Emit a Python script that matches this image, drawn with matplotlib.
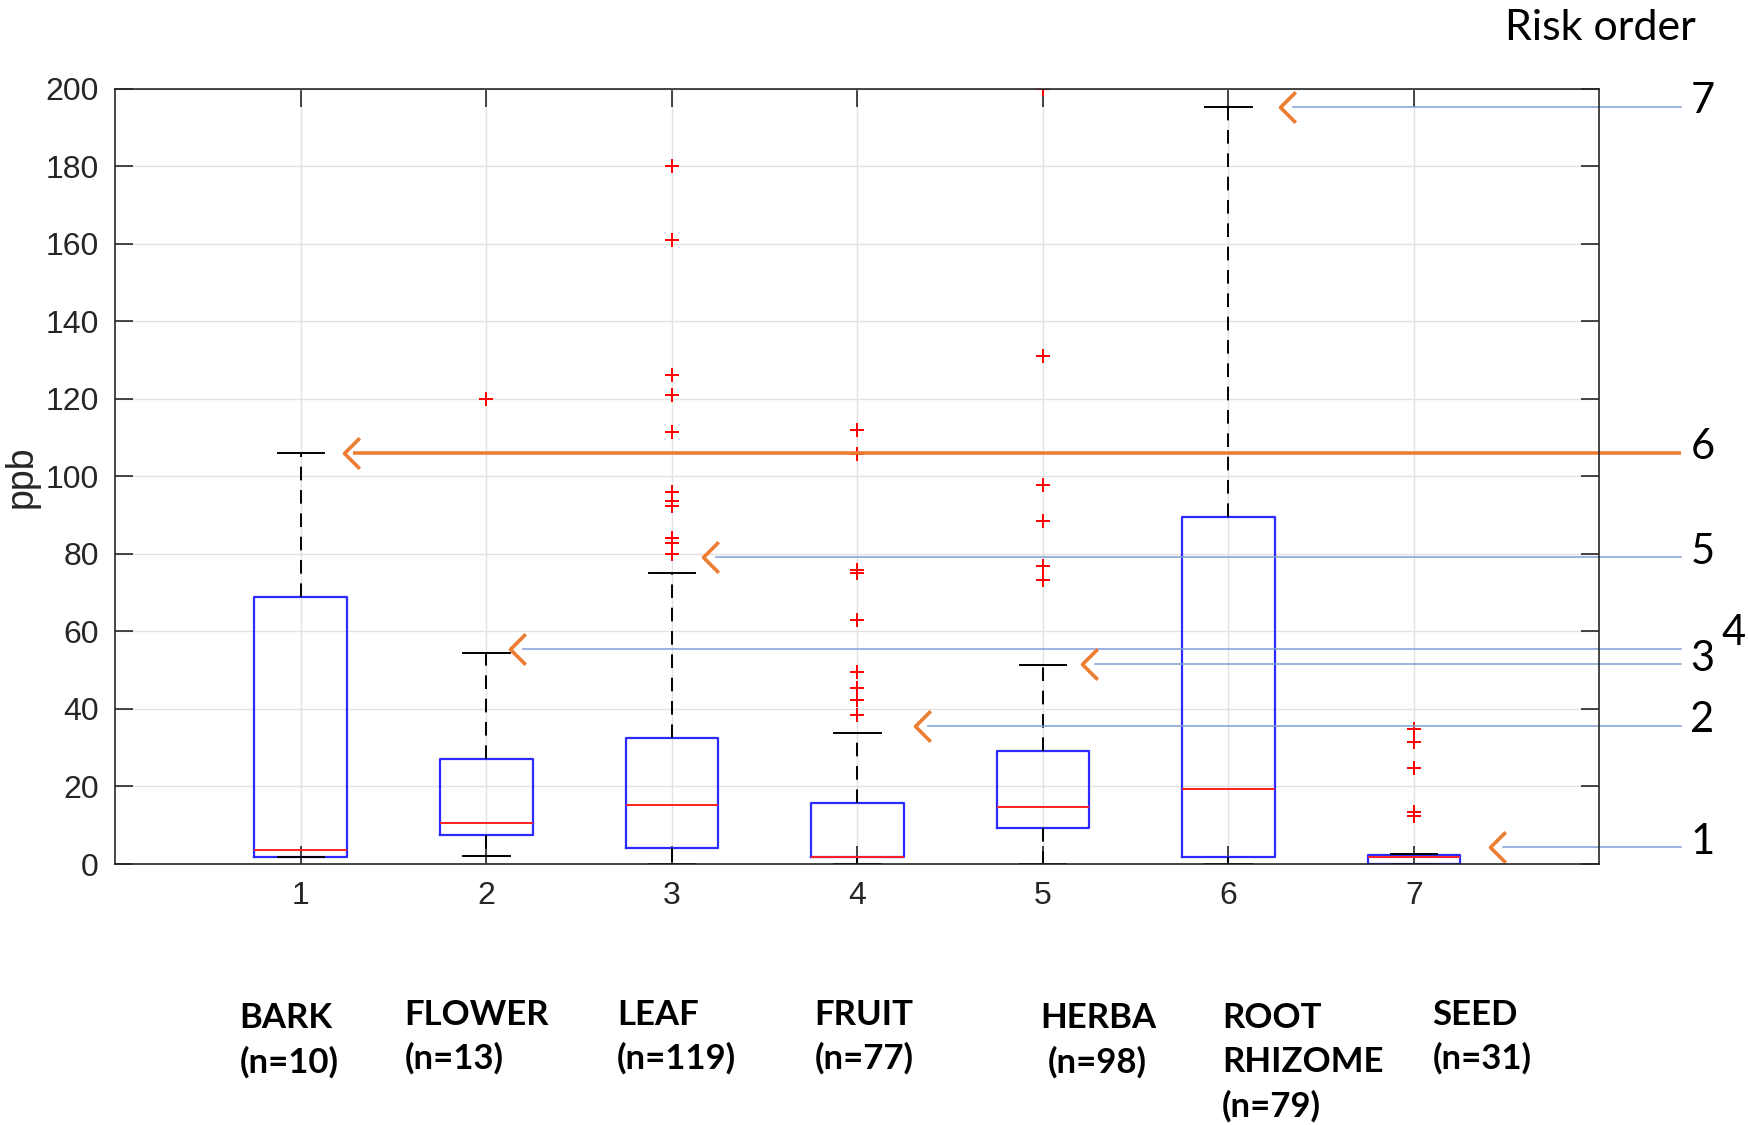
import matplotlib
matplotlib.use('Agg')
import matplotlib.pyplot as plt
from matplotlib.path import Path

# ── data ────────────────────────────────────────────────────────────────────
parts = ['BARK', 'FLOWER', 'LEAF', 'FRUIT', 'HERBA', 'ROOT\nRHIZOME', 'SEED']
counts = [10, 13, 119, 77, 98, 79, 31]
q1 = [1.7, 7.5, 4.0, 1.9, 9.2, 1.7, 0.0]
medians = [3.5, 10.6, 15.3, 1.9, 14.6, 19.3, 1.7]
q3 = [68.8, 27.0, 32.5, 15.7, 29.2, 89.5, 2.3]
whis_lo = [1.7, 2.0, 0.0, 0.0, 0.0, 0.0, 0.0]
whis_hi = [106.0, 54.4, 75.2, 33.8, 51.3, 195.3, 2.6]
outliers = [
    [],
    [120.0],
    [180.0, 161.1, 126.3, 121.1, 111.4, 96.0, 93.6, 92.3, 84.0, 82.7, 80.1],
    [112.0, 105.9, 75.9, 75.2, 63.0, 49.6, 45.4, 42.3, 38.5],
    [200.0, 131.0, 97.9, 88.6, 76.9, 73.2],
    [],
    [34.8, 31.6, 24.7, 13.5, 12.4],
]

# risk order markers: rank, level (ppb), box the arrow points at
risk_rank = [7, 6, 5, 4, 3, 2, 1]
risk_level = [195.3, 106.0, 79.1, 55.5, 51.5, 35.7, 4.3]
risk_tip = [6.28, 1.23, 3.17, 2.13, 5.21, 4.31, 7.41]

AX_COLOR = '#262626'
ORANGE = '#ED7D31'
LINE_BLUE = '#7E9ED6'

plt.rcParams['font.family'] = ['Liberation Sans', 'DejaVu Sans']

fig = plt.figure(figsize=(17.48, 11.25), dpi=100, facecolor='white')
ax = fig.add_axes([0.066, 0.232, 0.849, 0.689])

stats = []
for i in range(len(parts)):
    stats.append(dict(med=medians[i], q1=q1[i], q3=q3[i],
                      whislo=whis_lo[i], whishi=whis_hi[i],
                      fliers=outliers[i], label=str(i + 1)))

ax.bxp(stats, positions=range(1, len(parts) + 1), widths=0.5,
       showfliers=True,
       boxprops=dict(color='#2B2BFF', linewidth=1.6),
       medianprops=dict(color='#FF2020', linewidth=1.4),
       whiskerprops=dict(color='black', linewidth=1.4, linestyle=(0, (7, 5))),
       capprops=dict(color='black', linewidth=1.4),
       capwidths=0.25,
       flierprops=dict(marker='+', markeredgecolor='red', markersize=10,
                       markeredgewidth=1.4, linestyle='none'))

ax.set_xlim(0, 8)
ax.set_ylim(0, 200)
ax.set_yticks(range(0, 201, 20))
ax.set_xticks(range(1, 8))
ax.grid(True, color='#E2E2E2', linewidth=1)
ax.set_axisbelow(True)
for sp in ax.spines.values():
    sp.set_color(AX_COLOR)
    sp.set_linewidth(1.2)
ax.tick_params(direction='in', length=13, width=1.2, colors=AX_COLOR,
               labelsize=23, top=True, right=True, pad=12)
ax.set_ylabel('ppb', fontsize=27, color=AX_COLOR)
ax.yaxis.set_label_coords(-0.051, 0.5)

# risk order arrows
chevron = Path([(1, 1), (0, 0), (1, -1)], [Path.MOVETO, Path.LINETO, Path.LINETO])
for rank, lvl, tip in zip(risk_rank, risk_level, risk_tip):
    if rank == 6:
        ax.plot([tip + 0.05, 8.44], [lvl, lvl], color=ORANGE, lw=2.6,
                clip_on=False, solid_capstyle='butt')
    else:
        ax.plot([tip + 0.07, 8.44], [lvl, lvl], color=LINE_BLUE, lw=1.1,
                clip_on=False)
    ax.plot(tip, lvl, marker=chevron, markersize=22, markerfacecolor='none',
            markeredgecolor=ORANGE, markeredgewidth=2.6, clip_on=False)
    dx, dy = (8.66, 4.0) if rank == 4 else (8.49, 1.5)
    ax.text(dx, lvl + dy, str(rank), fontsize=30, family=['Lato', 'DejaVu Sans'],
            ha='left', va='center', color='black', clip_on=False)

fig.text(0.970, 0.975, 'Risk order', fontsize=31, family=['Lato', 'DejaVu Sans'],
         ha='right', va='center', color='black')

# category labels under the chart
label_x = [0.137, 0.2315, 0.353, 0.466, 0.595, 0.699, 0.8195]
label_y = [0.095, 0.098, 0.098, 0.098, 0.095, 0.095, 0.098]
line_step = 0.039
for i, (name, n) in enumerate(zip(parts, counts)):
    lines = name.split('\n') + [f'(n={n})']
    for j, txt in enumerate(lines):
        x = label_x[i] + (0.0045 if (i == 4 and j == len(lines) - 1) else 0)
        fig.text(x, label_y[i] - j * line_step, txt, fontsize=25,
                 fontweight='bold', family=['Lato', 'DejaVu Sans'],
                 ha='left', va='center', color='black')

fig.savefig('out.png', dpi=100, facecolor='white')
